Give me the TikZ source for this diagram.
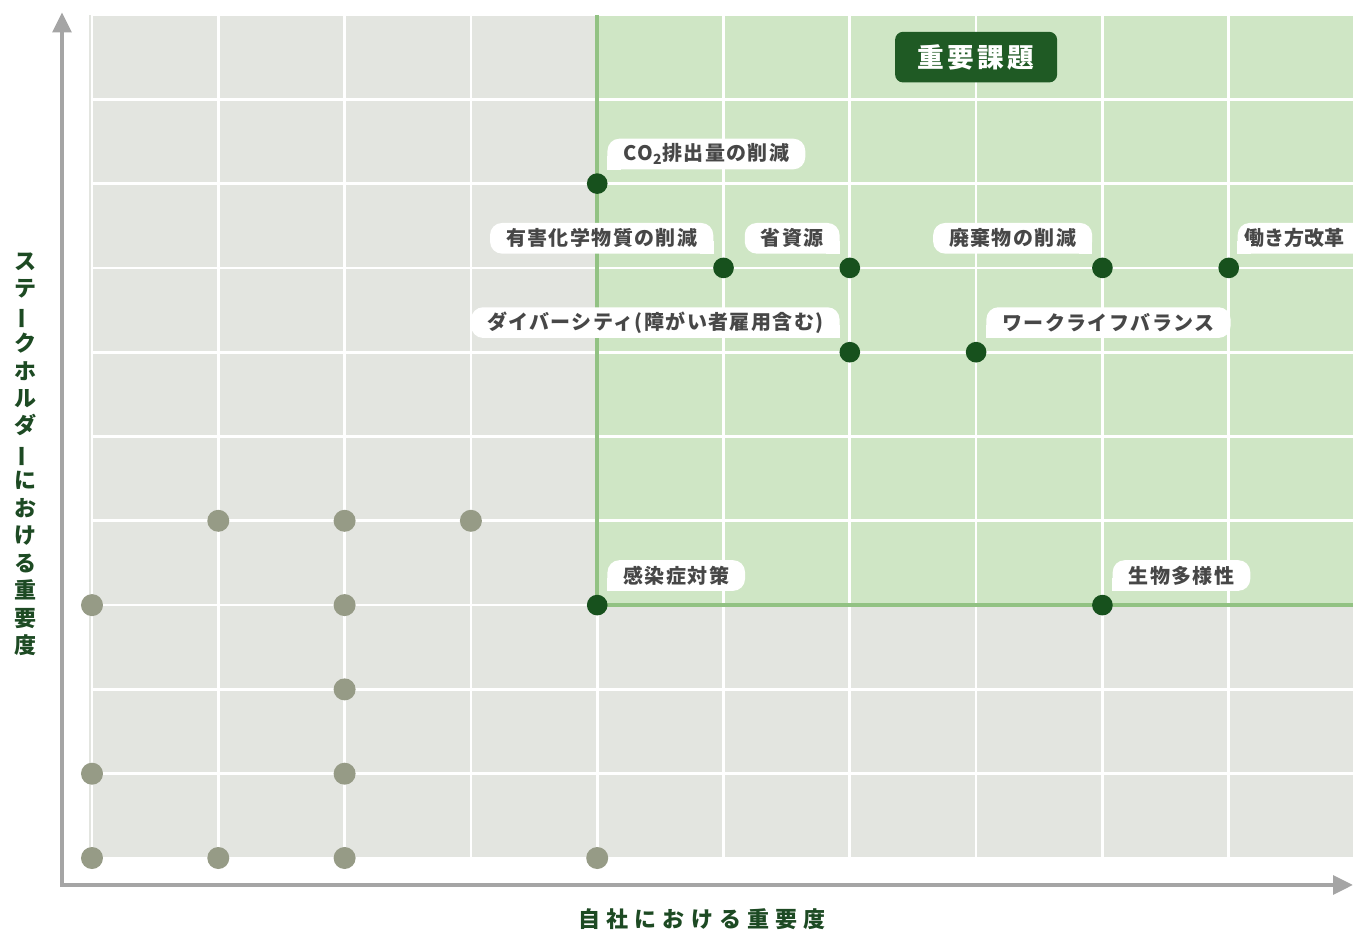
\documentclass[tikz,border=0pt]{standalone}
\usepackage{fontspec}
\usepackage{tikz}
\usetikzlibrary{positioning, arrows.meta}
\newfontfamily\jp{Noto Sans CJK JP}
\newfontfamily\jptag{Noto Sans CJK JP}[LetterSpace=7]
\newfontfamily\jpwide{Noto Sans CJK JP}[LetterSpace=28]
\newfontfamily\jpbadge{Noto Sans CJK JP}[LetterSpace=12]
\newcommand{\vchoon}{\rotatebox[origin=c]{90}{ー}}
\definecolor{bggray}{HTML}{E3E5E0}
\definecolor{bggreen}{HTML}{CFE6C5}
\definecolor{edgegreen}{HTML}{92C283}
\definecolor{dotgreen}{HTML}{17511D}
\definecolor{dotgray}{HTML}{969B86}
\definecolor{axisgray}{HTML}{A5A5A5}
\definecolor{txtgreen}{HTML}{1D4A23}
\definecolor{txtgray}{HTML}{474747}
\definecolor{badgegreen}{HTML}{1F5A24}
\tikzstyle{hot} = [circle, fill=dotgreen, minimum size=15.5pt, inner sep=0pt]
\tikzstyle{cold} = [circle, fill=dotgray, minimum size=16.5pt, inner sep=0pt]
\tikzstyle{tag} = [rectangle, rounded corners=9pt, fill=white, text=txtgray, minimum height=23pt, inner xsep=12pt, inner ysep=0pt, font={\jptag\bfseries\fontsize{15}{18}\selectfont}]
\tikzstyle{badge} = [rectangle, rounded corners=6pt, fill=badgegreen, text=white, minimum width=121.5pt, minimum height=38pt, font={\jpbadge\bfseries\fontsize{20}{24}\selectfont}]
\tikzstyle{gridline} = [white, line width=2pt]
\tikzstyle{border} = [edgegreen, line width=3pt]
\tikzstyle{axis} = [draw=axisgray, line width=3pt, line join=miter, arrows={Triangle[width=14pt,length=15pt]-Triangle[width=14pt,length=15pt]}]
\tikzstyle{axislabel} = [text=txtgreen, inner sep=0pt]

\begin{document}
\begin{tikzpicture}[x=94.725pt, y=63.225pt]
      \useasboundingbox (-0.7284,-0.9015) rectangle (9.984,10.178);
      % field
      \fill[bggray] (-0.02,0) rectangle (9.984,10);
      \fill[bggreen] (4,3) rectangle (9.984,10);
      \draw[gridline] (0,0) grid[step=1] (9.984,10);
      \draw[border] (4,10) |- (9.984,3);

      % axes
      \coordinate (ytip) at (-0.2375,10.03);
      \coordinate (xtip) at (9.984,-0.32);
      \draw[axis] (ytip) |- (xtip);

      % other issues
      \node (g14) [cold] at (1,4) {};
      \node (g24) [cold] at (2,4) {};
      \node (g34) [cold] at (3,4) {};
      \node (g03) [cold] at (0,3) {};
      \node (g23) [cold] at (2,3) {};
      \node (g22) [cold] at (2,2) {};
      \node (g01) [cold] at (0,1) {};
      \node (g21) [cold] at (2,1) {};
      \node (g00) [cold] at (0,0) {};
      \node (g10) [cold] at (1,0) {};
      \node (g20) [cold] at (2,0) {};
      \node (g40) [cold] at (4,0) {};

      % key issues
      \node (co2) [hot] at (4,8) {};
      \node (yugai) [hot] at (5,7) {};
      \node (shigen) [hot] at (6,7) {};
      \node (haiki) [hot] at (8,7) {};
      \node (hataraki) [hot] at (9,7) {};
      \node (diver) [hot] at (6,6) {};
      \node (wlb) [hot] at (7,6) {};
      \node (kansen) [hot] at (4,3) {};
      \node (seibutsu) [hot] at (8,3) {};

      \node (co2tag) [tag, above right=10.5pt and 7.5pt of co2.center] {CO\textsubscript{2}排出量の削減};
      \node (yugaitag) [tag, above left=10.5pt and 7.5pt of yugai.center] {有害化学物質の削減};
      \node (shigentag) [tag, above left=10.5pt and 7.5pt of shigen.center] {省資源};
      \node (haikitag) [tag, above left=10.5pt and 7.5pt of haiki.center] {廃棄物の削減};
      \node (hatarakitag) [tag, inner xsep=5pt, text width=100pt, align=left, font={\jp\bfseries\fontsize{15}{18}\selectfont}, above right=10.5pt and 6.5pt of hataraki.center] {働き方改革};
      \node (divertag) [tag, above left=10.5pt and 7.5pt of diver.center] {ダイバーシティ(障がい者雇用含む)};
      \node (wlbtag) [tag, above right=10.5pt and 7.5pt of wlb.center] {ワークライフバランス};
      \node (kansentag) [tag, above right=10.5pt and 7.5pt of kansen.center] {感染症対策};
      \node (seibutsutag) [tag, above right=10.5pt and 7.5pt of seibutsu.center] {生物多様性};

      % square corner towards the dot
      \fill[white] (co2tag.south west) rectangle ++(10pt,10pt);
      \fill[white] (hatarakitag.south west) rectangle ++(10pt,10pt);
      \fill[white] (wlbtag.south west) rectangle ++(10pt,10pt);
      \fill[white] (kansentag.south west) rectangle ++(10pt,10pt);
      \fill[white] (seibutsutag.south west) rectangle ++(10pt,10pt);
      \fill[white] (yugaitag.south east) rectangle ++(-10pt,10pt);
      \fill[white] (shigentag.south east) rectangle ++(-10pt,10pt);
      \fill[white] (haikitag.south east) rectangle ++(-10pt,10pt);
      \fill[white] (divertag.south east) rectangle ++(-10pt,10pt);

      \node (badge) [badge] at (7,9.5) {重要課題};

      \node (xlabel) [axislabel, font={\jpwide\bfseries\fontsize{16.5}{20}\selectfont}] at (4.83,-0.724) {自社における重要度};
      \node (ylabel) [axislabel, align=center, font={\jp\bfseries\fontsize{16.5}{20.6}\selectfont}] at (-0.53,4.79) {ス\\テ\\\vchoon\\ク\\ホ\\ル\\ダ\\\vchoon\\に\\お\\け\\る\\重\\要\\度};
    \end{tikzpicture}
\end{document}
